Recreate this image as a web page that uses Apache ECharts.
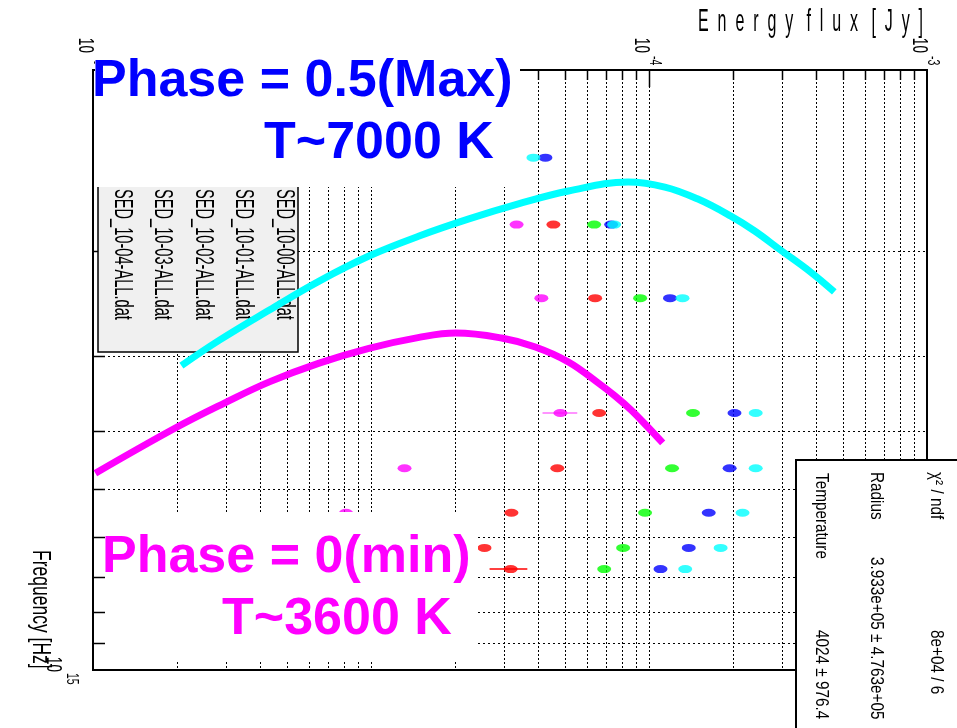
<!DOCTYPE html>
<html>
<head>
<meta charset="utf-8">
<script src="https://cdn.jsdelivr.net/npm/echarts@6/dist/echarts.min.js"></script>
<style>html,body{margin:0;padding:0;background:#fff}#c{width:957px;height:728px}</style>
</head>
<body>
<div id="c"></div>
<script>
// ---------- data (flux [Jy], frequency [Hz]) ----------
const fluxMin = 1e-6, fluxMax = 1e-3;
const freqMin = 1e14, freqMax = 1e15;

const seriesNames = ['SED_10-00-ALL.dat','SED_10-01-ALL.dat','SED_10-02-ALL.dat','SED_10-03-ALL.dat','SED_10-04-ALL.dat'];
const seriesColors = ['#ff00ff','#ff0000','#00ff00','#0000ff','#00ffff'];

const sed1000 = [[3.34e-5,1.81e14],[4.10e-5,2.40e14],[4.80e-5,3.73e14],[1.32e-5,4.61e14],[8.13e-6,5.47e14]];
const sed1001 = [[4.53e-5,1.81e14],[6.40e-5,2.40e14],[6.62e-5,3.73e14],[4.68e-5,4.61e14],[3.20e-5,5.47e14],[2.56e-5,6.26e14],[3.18e-5,6.79e14]];
const sed1002 = [[6.35e-5,1.81e14],[9.29e-5,2.40e14],[1.44e-4,3.73e14],[1.21e-4,4.61e14],[9.68e-5,5.47e14],[8.07e-5,6.26e14],[6.90e-5,6.79e14]];
const sed1003 = [[4.24e-5,1.40e14],[7.31e-5,1.81e14],[1.19e-4,2.40e14],[2.03e-4,3.73e14],[1.95e-4,4.61e14],[1.64e-4,5.47e14],[1.39e-4,6.26e14],[1.10e-4,6.79e14]];
const sed1004 = [[3.84e-5,1.40e14],[7.49e-5,1.81e14],[1.32e-4,2.40e14],[2.42e-4,3.73e14],[2.42e-4,4.61e14],[2.17e-4,5.47e14],[1.81e-4,6.26e14],[1.35e-4,6.79e14]];
const sedData = [sed1000, sed1001, sed1002, sed1003, sed1004];

// horizontal error bars: [fluxLow, fluxHigh, freq]
const err1000 = [[4.14e-5,5.52e-5,3.73e14]];
const err1001 = [[2.67e-5,3.65e-5,6.79e14]];

// fitted curves
const fitMax = [[2.08e-6,3.11e14],[2.85e-6,2.82e14],[4.31e-6,2.512e14],[6.51e-6,2.248e14],[9.83e-6,2.042e14],[1.49e-5,1.891e14],[2.25e-5,1.771e14],[3.39e-5,1.672e14],[5.13e-5,1.591e14],[8.41e-5,1.537e14],[1.14e-4,1.567e14],[1.50e-4,1.641e14],[1.97e-4,1.752e14],[2.40e-4,1.855e14],[2.97e-4,1.995e14],[3.81e-4,2.171e14],[4.64e-4,2.344e14]];
const fitMin = [[1.02e-6,4.70e14],[2.00e-6,3.94e14],[2.97e-6,3.59e14],[4.31e-6,3.31e14],[6.51e-6,3.08e14],[9.83e-6,2.91e14],[1.49e-5,2.79e14],[2.02e-5,2.744e14],[2.95e-5,2.797e14],[3.90e-5,2.895e14],[5.13e-5,3.066e14],[6.57e-5,3.324e14],[7.55e-5,3.494e14],[8.62e-5,3.687e14],[9.92e-5,3.94e14],[1.12e-4,4.184e14]];

// tick / grid values
const fluxGridTicks = [2e-6,3e-6,4e-6,5e-6,6e-6,7e-6,8e-6,9e-6,1e-5,2e-5,3e-5,4e-5,5e-5,6e-5,7e-5,8e-5,9e-5,1e-4,2e-4,3e-4,4e-4,5e-4,6e-4,7e-4,8e-4,9e-4];
const freqGridTicks = [2e14,3e14,4e14,5e14,6e14,7e14,8e14,9e14];
const fluxLabelDecades = [1e-6,1e-5,1e-4,1e-3];
const freqLabelDecades = [1e15];

const xTitle = 'Energy flux [Jy]';
const yTitle = 'Frequency [Hz]';
const statsLabels = ['\u03c7\u00b2 / ndf','Radius','Temperature'];
const statsValues = ['8e+04 / 6','3.933e+05 \u00b1 4.763e+05','4024 \u00b1 976.4'];

// ---------- chart ----------
const chart = echarts.init(document.getElementById('c'));
const FONT = '"Liberation Sans", Arial, Helvetica, sans-serif';

function isDecade(v){ const l = Math.log10(v); return Math.abs(l - Math.round(l)) < 1e-6; }

const series = [];
series.push({
  type:'custom', silent:true, z:1, data: fluxGridTicks.map(v => [v, freqMin]),
  renderItem(params, api){
    const v = api.value(0);
    const t = api.coord([v, freqMin]), b = api.coord([v, freqMax]);
    const x = Math.round(t[0]) + 0.5;
    return {type:'group', children:[
      {type:'line', shape:{x1:x,y1:t[1],x2:x,y2:b[1]}, style:{stroke:'#000',lineWidth:1,lineDash:[2,2]}},
      {type:'line', shape:{x1:x,y1:t[1],x2:x,y2:t[1]+(isDecade(v)?17:10)}, style:{stroke:'#000',lineWidth:1.5}}
    ]};
  }
});
series.push({
  type:'custom', silent:true, z:1, data: freqGridTicks.map(f => [fluxMin, f]),
  renderItem(params, api){
    const f = api.value(1);
    const l = api.coord([fluxMin, f]), r = api.coord([fluxMax, f]);
    const y = Math.round(l[1]) + 0.5;
    return {type:'group', children:[
      {type:'line', shape:{x1:l[0],y1:y,x2:r[0],y2:y}, style:{stroke:'#000',lineWidth:1,lineDash:[2,3]}},
      {type:'line', shape:{x1:l[0],y1:y,x2:l[0]+12,y2:y}, style:{stroke:'#000',lineWidth:1.5}}
    ]};
  }
});
function errSeries(data, color){
  return {type:'custom', silent:true, z:4, data, encode:{x:[0,1], y:2},
    renderItem(params, api){
      const a = api.coord([api.value(0), api.value(2)]);
      const b = api.coord([api.value(1), api.value(2)]);
      return {type:'line', shape:{x1:a[0],y1:a[1],x2:b[0],y2:b[1]}, style:{stroke:color,lineWidth:1.5}};
    }};
}
series.push(errSeries(err1000, '#ff70ff'));
series.push(errSeries(err1001, '#ff0000'));
sedData.forEach((d, i) => {
  series.push({type:'scatter', name:seriesNames[i], data:d, symbol:'circle', symbolSize:[14,8],
    itemStyle:{color:seriesColors[i]}, z:4, silent:true});
});
series.push({type:'line', data:fitMax, smooth:0.4, showSymbol:false, symbol:'none', z:5, silent:true,
  lineStyle:{color:'#00ffff', width:7}});
series.push({type:'line', data:fitMin, smooth:0.4, showSymbol:false, symbol:'none', z:5, silent:true,
  lineStyle:{color:'#ff00ff', width:7}});

chart.setOption({
  animation:false,
  backgroundColor:'#ffffff',
  grid:{left:93, top:70, width:834, height:600, show:true, borderColor:'#000', borderWidth:2, backgroundColor:'rgba(0,0,0,0)'},
  xAxis:{type:'log', logBase:10, min:fluxMin, max:fluxMax, position:'top',
    axisLine:{show:false}, axisTick:{show:false}, axisLabel:{show:false}, splitLine:{show:false}},
  yAxis:{type:'log', logBase:10, min:freqMin, max:freqMax, inverse:true,
    axisLine:{show:false}, axisTick:{show:false}, axisLabel:{show:false}, splitLine:{show:false}},
  series
});

// ---------- texts and boxes ----------
function rotText(text, x, y, size, sx, align, fill, z){
  return {type:'text', x, y, rotation:-Math.PI/2, scaleX:sx, z, silent:true,
    style:{text, font: size + 'px ' + FONT, align, verticalAlign:'middle', textAlign:align, textVerticalAlign:'middle', fill}};
}
function flatText(text, x, y, font, fill, z, align, sx){
  return {type:'text', x, y, z, silent:true, scaleX: sx || 1,
    style:{text, font, fill, align: align||'left', verticalAlign:'middle', textAlign: align||'left', textVerticalAlign:'middle'}};
}
const g = [];
fluxLabelDecades.forEach(v => {
  const p = chart.convertToPixel({xAxisIndex:0, yAxisIndex:0}, [v, freqMin]);
  const e = Math.round(Math.log10(v));
  g.push(rotText('10', p[0]-7.5, p[1]-17, 22, 0.62, 'right', '#000', 1));
  g.push(rotText(String(e), p[0]+6, p[1]-14, 17, 0.62, 'left', '#000', 1));
});
freqLabelDecades.forEach(f => {
  const p = chart.convertToPixel({xAxisIndex:0, yAxisIndex:0}, [fluxMin, f]);
  const e = Math.round(Math.log10(f));
  g.push(rotText('10', p[0]-39.5, p[1]+2, 22, 0.62, 'right', '#000', 1));
  g.push(rotText(String(e), p[0]-21.5, p[1]+3, 17, 0.62, 'left', '#000', 1));
});
// axis titles
const spaced = xTitle.split(' ').map(w => w.split('').join('  ')).join('   ');
g.push(flatText(spaced, 923, 22, '32px ' + FONT, '#000', 1, 'right', 0.5));
g.push(rotText(yTitle, 40, 550, 25, 0.70, 'left', '#000', 1));

// legend
g.push({type:'rect', z:2, silent:true, shape:{x:98, y:150, width:200, height:202},
  style:{fill:'#f0f0f0', stroke:'#000', lineWidth:1.5}});
seriesNames.forEach((n, i) => {
  g.push(rotText(n, 283.5 - 40.5*i, 189, 25, 0.585, 'left', '#000', 3));
});

// stats box
g.push({type:'rect', z:10, silent:true, shape:{x:796, y:460, width:200, height:300},
  style:{fill:'#fff', stroke:'#000', lineWidth:2}});
const statCols = [936, 876, 821];
const statLabelY = [472, 472, 473];
const statValueY = [630, 557, 630];
statsLabels.forEach((t, i) => g.push(rotText(t, statCols[i], statLabelY[i], 18, 0.85, 'left', '#000', 11)));
statsValues.forEach((t, i) => g.push(rotText(t, statCols[i], statValueY[i], 18, 0.85, 'left', '#000', 11)));

// annotation boxes
g.push({type:'rect', z:10, silent:true, shape:{x:95, y:38, width:425, height:149}, style:{fill:'#fff'}});
g.push({type:'rect', z:10, silent:true, shape:{x:106, y:512, width:372, height:150}, style:{fill:'#fff'}});
const bold = 'bold 52px ' + FONT;
g.push(flatText('Phase = 0.5(Max)', 92, 82, bold, '#0000ff', 11));
g.push(flatText('T~7000 K', 264, 144, bold, '#0000ff', 11));
g.push(flatText('Phase = 0(min)', 102, 558, bold, '#ff00ff', 11));
g.push(flatText('T~3600 K', 222, 620, bold, '#ff00ff', 11));

chart.setOption({graphic:{elements:g}});
</script>
</body>
</html>
